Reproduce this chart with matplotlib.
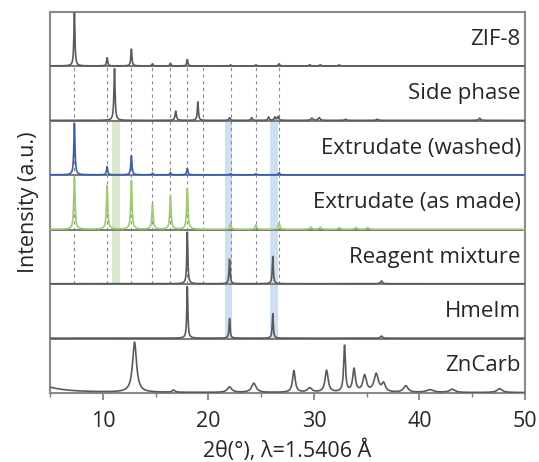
import numpy as np
import matplotlib
matplotlib.use("Agg")
import matplotlib.pyplot as plt

plt.rcParams['font.family'] = ['Open Sans', 'DejaVu Sans']

# --- pattern data: peak positions (2theta), heights (fraction of panel), widths (FWHM) ---
labels = ["ZnCarb", "HmeIm", "Reagent mixture", "Extrudate (as made)",
          "Extrudate (washed)", "Side phase", "ZIF-8"]
colors = ["#5a5a5a", "#5a5a5a", "#5a5a5a", "#9ccb72", "#3d5fab", "#5a5a5a", "#5a5a5a"]

zncarb_pos = [3.0, 13.0, 16.7, 22.0, 24.3, 28.1, 29.6, 31.2, 32.9, 33.8, 34.8, 35.9, 36.6, 38.7, 41.0, 43.1, 47.6]
zncarb_h = [0.20, 0.92, 0.04, 0.10, 0.17, 0.40, 0.08, 0.40, 0.85, 0.42, 0.30, 0.33, 0.15, 0.12, 0.05, 0.06, 0.07]
zncarb_w = [4.0, 0.45, 0.3, 0.5, 0.5, 0.3, 0.5, 0.35, 0.2, 0.3, 0.4, 0.5, 0.4, 0.5, 0.8, 0.6, 0.6]

hmeim_pos = [18.0, 22.0, 26.1, 36.4]
hmeim_h = [0.95, 0.36, 0.45, 0.04]
hmeim_w = [0.12, 0.12, 0.12, 0.2]

reagent_pos = [18.0, 22.0, 26.1, 36.4]
reagent_h = [0.95, 0.45, 0.50, 0.05]
reagent_w = [0.12, 0.12, 0.12, 0.2]

asmade_pos = [7.3, 10.4, 12.7, 14.7, 16.4, 18.0, 22.1, 24.5, 26.7, 29.7, 30.6, 32.4, 34.0, 35.1]
asmade_h = [0.95, 0.80, 0.90, 0.45, 0.60, 0.75, 0.10, 0.08, 0.12, 0.04, 0.04, 0.03, 0.03, 0.03]
asmade_w = [0.15, 0.15, 0.15, 0.15, 0.15, 0.15, 0.15, 0.15, 0.15, 0.2, 0.2, 0.2, 0.2, 0.2]

washed_pos = [7.3, 10.4, 12.7, 14.7, 16.4, 18.0, 22.1, 24.5, 26.7]
washed_h = [0.95, 0.15, 0.35, 0.03, 0.04, 0.12, 0.02, 0.02, 0.04]
washed_w = [0.13, 0.13, 0.13, 0.13, 0.13, 0.13, 0.13, 0.13, 0.13]

side_pos = [11.1, 16.9, 19.0, 22.0, 24.1, 25.7, 26.3, 26.6, 29.8, 30.5, 33.0, 36.0, 45.7]
side_h = [0.95, 0.17, 0.34, 0.05, 0.05, 0.06, 0.06, 0.07, 0.04, 0.05, 0.02, 0.02, 0.04]
side_w = [0.13, 0.15, 0.12, 0.15, 0.15, 0.15, 0.15, 0.15, 0.2, 0.2, 0.2, 0.2, 0.2]

zif_pos = [7.3, 10.4, 12.7, 14.7, 16.4, 18.0, 22.1, 24.5, 26.7, 29.6, 30.6, 32.4]
zif_h = [0.98, 0.15, 0.31, 0.04, 0.05, 0.12, 0.02, 0.02, 0.04, 0.02, 0.02, 0.02]
zif_w = [0.12, 0.12, 0.12, 0.12, 0.12, 0.12, 0.12, 0.12, 0.12, 0.15, 0.15, 0.15]

patterns = [(zncarb_pos, zncarb_h, zncarb_w), (hmeim_pos, hmeim_h, hmeim_w),
            (reagent_pos, reagent_h, reagent_w), (asmade_pos, asmade_h, asmade_w),
            (washed_pos, washed_h, washed_w), (side_pos, side_h, side_w),
            (zif_pos, zif_h, zif_w)]

ref_lines = [7.3, 10.4, 12.7, 14.7, 16.4, 18.0, 19.5, 22.1, 24.5, 26.7]
green_band = 11.2
blue_bands = [21.9, 26.2]

x = np.linspace(5, 50, 4000)


def profile(pos, h, w):
    y = np.zeros_like(x)
    for p, a, fw in zip(pos, h, w):
        g = (fw / 2) ** 2
        y += a * g / ((x - p) ** 2 + g)
    return y


fig, ax = plt.subplots(figsize=(5.39, 4.62), dpi=100)
fig.subplots_adjust(left=0.093, right=0.974, top=0.974, bottom=0.149)

# shaded bands
ax.fill_betweenx([2, 5], green_band - 0.38, green_band + 0.38, color="#dbe8cf", lw=0, zorder=0)
for b in blue_bands:
    ax.fill_betweenx([1, 5], b - 0.35, b + 0.35, color="#cddff0", lw=0, zorder=0)

# reference dashed lines
for r in ref_lines:
    ax.plot([r, r], [2, 6], color="#8a8a8a", lw=0.8, ls=(0, (3, 3)), zorder=1)

# panel separators
for k in range(1, 7):
    ax.axhline(k, color="#7a7a7a", lw=1.4, zorder=2)

for k, ((pos, h, w), lab, c) in enumerate(zip(patterns, labels, colors)):
    y = profile(pos, h, w)
    ax.plot(x, k + 0.01 + y, color=c, lw=1.2, zorder=3)
    ax.text(49.6, k + 0.5, lab, ha="right", va="center", fontsize=16, color="#262626", zorder=4)

ax.set_xlim(5, 50)
ax.set_ylim(0, 7)
ax.set_yticks([])
ax.set_xticks([10, 20, 30, 40, 50])
ax.set_xticks(np.arange(5, 51, 5), minor=True)
ax.tick_params(axis="x", which="major", direction="out", length=5, width=1.2, color="#7a7a7a",
               labelsize=15.5, labelcolor="#262626", pad=8)
ax.tick_params(axis="x", which="minor", direction="out", length=3, width=1.0, color="#7a7a7a")
for s in ax.spines.values():
    s.set_color("#8a8a8a")
    s.set_linewidth(1.5)

ax.set_xlabel("2θ(°), λ=1.5406 Å", fontsize=15.5, color="#262626", labelpad=5)
ax.set_ylabel("Intensity (a.u.)", fontsize=15.5, color="#262626", labelpad=8)

fig.savefig("out.png", dpi=100)
